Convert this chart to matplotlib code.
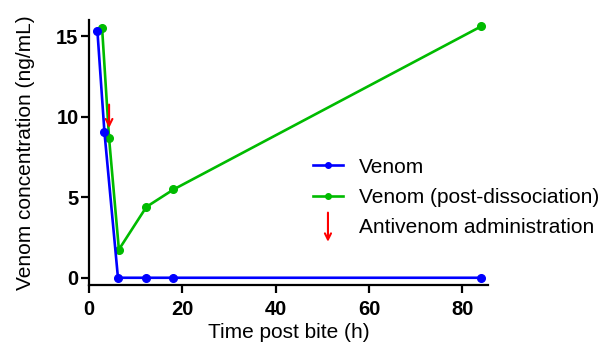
import matplotlib
matplotlib.use("Agg")
import matplotlib.pyplot as plt
from matplotlib.lines import Line2D
from matplotlib.patches import FancyArrowPatch
from matplotlib.legend_handler import HandlerBase

plt.rcParams['font.family'] = ['Liberation Sans', 'DejaVu Sans']

# data
time_venom = [1.8, 3.3, 6.2, 12.3, 18.1, 84]
conc_venom = [15.3, 9.05, 0.0, 0.0, 0.0, 0.0]
time_post = [2.8, 4.3, 6.4, 12.3, 18.1, 84]
conc_post = [15.5, 8.65, 1.75, 4.4, 5.48, 15.6]
antivenom_time = 4.3
x_ticks = [0, 20, 40, 60, 80]
y_ticks = [0, 5, 10, 15]


class ArrowHandler(HandlerBase):
    # thin red down arrow as legend key
    def create_artists(self, legend, orig_handle, xdescent, ydescent,
                       width, height, fontsize, trans):
        cx = width / 2 - xdescent
        arr = FancyArrowPatch((cx, height * 1.4), (cx, -height * 0.6),
                              arrowstyle='->', mutation_scale=11, color='red',
                              lw=1.5, shrinkA=0, shrinkB=0, transform=trans)
        return [arr]


fig = plt.figure(figsize=(6.11, 3.51), dpi=100)
ax = fig.add_axes([0.1457, 0.188, 0.653, 0.755])

ax.plot(time_venom, conc_venom, color='#0000ff', lw=1.9, marker='o', markersize=5.5,
        label='Venom', zorder=3)
ax.plot(time_post, conc_post, color='#00bb00', lw=1.9, marker='o', markersize=5.5,
        label='Venom (post-dissociation)', zorder=2)

# antivenom arrow
ax.annotate('', xy=(antivenom_time, 9.3), xytext=(antivenom_time, 10.75),
            arrowprops=dict(arrowstyle='->', color='red', lw=1.5,
                            shrinkA=0, shrinkB=0, mutation_scale=12), zorder=4)

ax.set_xlim(0, 85.5)
ax.set_ylim(-0.45, 16)
ax.set_xticks(x_ticks)
ax.set_yticks(y_ticks)

for side in ['top', 'right']:
    ax.spines[side].set_visible(False)
for side in ['left', 'bottom']:
    ax.spines[side].set_linewidth(1.6)

ax.tick_params(direction='out', length=6, width=1.6, labelsize=14.5)
ax.tick_params(axis='x', pad=4.5)
ax.tick_params(axis='y', pad=1.5)
for lab in ax.get_xticklabels() + ax.get_yticklabels():
    lab.set_fontweight('bold')

ax.set_xlabel('Time post bite (h)', fontsize=15, labelpad=3)
ax.set_ylabel('Venom concentration (ng/mL)', fontsize=15, labelpad=15)

arrow_proxy = Line2D([], [])
handles = [
    Line2D([], [], color='#0000ff', lw=1.9, marker='o', markersize=4),
    Line2D([], [], color='#00bb00', lw=1.9, marker='o', markersize=4),
    arrow_proxy,
]
labels = ['Venom', 'Venom (post-dissociation)', 'Antivenom administration']
ax.legend(handles, labels, loc='upper left', bbox_to_anchor=(0.561, 0.481),
          frameon=False, fontsize=15, handlelength=1.45, handletextpad=0.75,
          labelspacing=0.54, borderaxespad=0, borderpad=0,
          handler_map={arrow_proxy: ArrowHandler()})

fig.savefig('out.png', dpi=100)
